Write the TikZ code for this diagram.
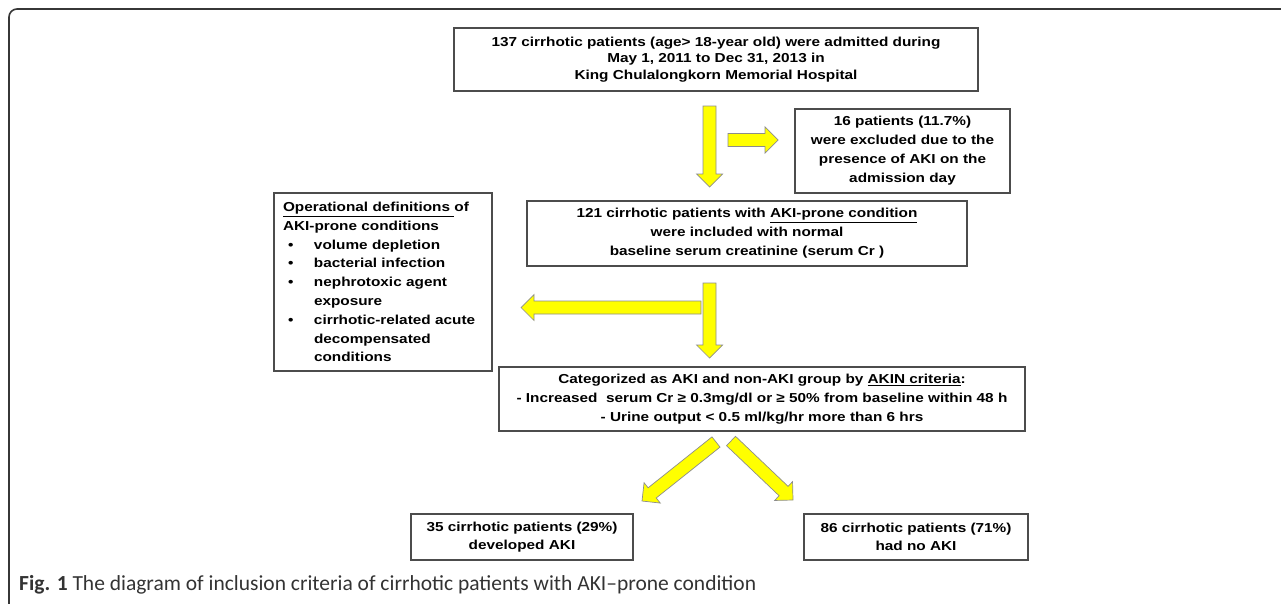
\documentclass[tikz,border=0pt]{standalone}
\usepackage{fontspec}
\usepackage{amsmath}
\usetikzlibrary{calc}
\newfontfamily\boxfont{Liberation Sans}[FakeStretch=1.18]
\newfontfamily\capfont{Carlito}
\definecolor{ayellow}{RGB}{255,255,0}
\definecolor{aframe}{RGB}{55,55,55}

% strzalka blokowa od #1 do grotu #2
\newcommand{\yarrow}[2]{%
	\coordinate (#1b) at ($(#2)!13pt!(#1)$);
	\draw[yellowarrow] ($(#1)!6.5pt!90:(#2)$) -- ($(#1b)!6.5pt!90:(#2)$)
		-- ($(#1b)!13pt!90:(#2)$) -- (#2) -- ($(#1b)!13pt!-90:(#2)$)
		-- ($(#1b)!6.5pt!-90:(#2)$) -- ($(#1)!6.5pt!-90:(#2)$) -- cycle;
}

\begin{document}
\begin{tikzpicture}[x=1pt, y=1pt,
		box/.style={draw=black!70, line width=1.1pt, rectangle, inner sep=0pt, align=center,
			font=\boxfont\bfseries\fontsize{13}{19}\selectfont},
		yellowarrow/.style={draw=black!45, line width=0.7pt, fill=ayellow, line join=miter}]
		
		\useasboundingbox (0,0) rectangle (1281,-603);
		
		% ramka
		\draw[aframe, line width=1.6pt, rounded corners=8pt] (9,-620) -- (9,-9) -- (1300,-9);
		
		\node[box, minimum width = 524pt, minimum height = 63pt,
			font=\boxfont\bfseries\fontsize{13}{16.5}\selectfont] (adm) at (716,-59.5)
		{137 cirrhotic patients (age> 18-year old) were admitted during\\
			May 1, 2011 to Dec 31, 2013 in\\
			King Chulalongkorn Memorial Hospital};
		
		\node[box, minimum width = 215pt, minimum height = 84pt] (excl) at (902.5,-151)
		{16 patients (11.7\%)\\ were excluded due to the\\ presence of AKI on the\\ admission day};
		
		\node[box, minimum width = 440pt, minimum height = 65pt] (incl) at (747,-233.5)
		{121 cirrhotic patients with \underline{AKI-prone condition}\\
			were included with normal\\
			baseline serum creatinine (serum Cr )};
		
		\node[box, minimum width = 218pt, minimum height = 178pt, text width = 200pt,
			align=left, font=\boxfont\bfseries\fontsize{13}{18.8}\selectfont] (defs) at (383,-282)
		{\underline{Operational definitions\ }of\\
			AKI-prone conditions\\
			\hspace*{5pt}\makebox[26pt][l]{\textbullet}volume depletion\\
			\hspace*{5pt}\makebox[26pt][l]{\textbullet}bacterial infection\\
			\hspace*{5pt}\makebox[26pt][l]{\textbullet}nephrotoxic agent\\
			\hspace*{31pt}exposure\\
			\hspace*{5pt}\makebox[26pt][l]{\textbullet}cirrhotic-related acute\\
			\hspace*{31pt}decompensated\\
			\hspace*{31pt}conditions};
		
		\node[box, minimum width = 526pt, minimum height = 64pt] (akin) at (762,-399)
		{Categorized as AKI and non-AKI group by \underline{AKIN criteria}:\\
			- Increased\ \ serum Cr ≥ 0.3mg/dl or ≥ 50\% from baseline within 48 h\\
			- Urine output < 0.5 ml/kg/hr more than 6 hrs};
		
		\node[box, minimum width = 222pt, minimum height = 46pt,
			font=\boxfont\bfseries\fontsize{13}{18}\selectfont] (aki) at (522,-537)
		{35 cirrhotic patients (29\%)\\ developed AKI};
		
		\node[box, minimum width = 224pt, minimum height = 46pt,
			font=\boxfont\bfseries\fontsize{13}{18}\selectfont] (noaki) at (916,-537)
		{86 cirrhotic patients (71\%)\\ had no AKI};
		
		% strzalki
		\coordinate (a1s) at (709.5,-106);
		\coordinate (a1t) at (709.5,-187);
		\coordinate (a2s) at (728,-140);
		\coordinate (a2t) at (778,-140);
		\coordinate (a3s) at (709.5,-283);
		\coordinate (a3t) at (709.5,-358);
		\coordinate (a4s) at (701,-307.5);
		\coordinate (a4t) at (521,-307.5);
		\coordinate (a5s) at (716,-442);
		\coordinate (a5t) at (642,-501);
		\coordinate (a6s) at (731,-441);
		\coordinate (a6t) at (793,-500);
		\yarrow{a1s}{a1t}
		\yarrow{a2s}{a2t}
		\yarrow{a3s}{a3t}
		\yarrow{a4s}{a4t}
		\yarrow{a5s}{a5t}
		\yarrow{a6s}{a6t}
		
		\node[anchor=base west, inner sep=0pt, text=black!80,
			font=\capfont\fontsize{21.5}{24}\selectfont] (cap) at (19,-590)
		{\textbf{Fig. 1} The diagram of inclusion criteria of cirrhotic patients with AKI–prone condition};
	\end{tikzpicture}
\end{document}
